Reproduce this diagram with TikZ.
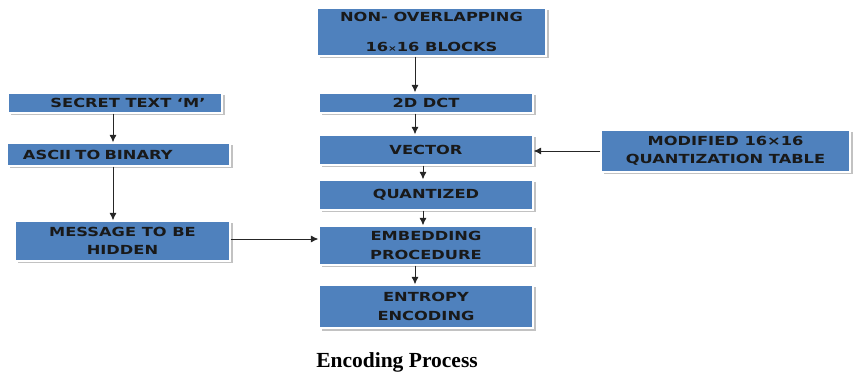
\documentclass[tikz,border=0pt]{standalone}
\usepackage{fontspec}
\usepackage{xcolor}
\usepackage{tikz}
\usetikzlibrary{arrows.meta,shadows}

\newfontfamily\boxfont[FakeStretch=1.3]{DejaVu Sans}
\newfontfamily\capfont{Liberation Serif}
\definecolor{boxblue}{RGB}{79,129,189}
\definecolor{boxtext}{RGB}{25,25,25}

\tikzset{
	box/.style={draw=white, line width=1.2pt, fill=boxblue, text=boxtext,
		font=\boxfont\bfseries\fontsize{12.5}{18.5}\selectfont, align=center, inner sep=0pt,
		drop shadow={shadow xshift=2.5pt, shadow yshift=-2.5pt, fill=black!40, opacity=0.6}},
	arr/.style={-{Latex[length=7.5pt,width=7pt]}, line width=0.9pt, draw=black!85}
}

\begin{document}
\begin{tikzpicture}[x=1pt,y=1pt]
		\useasboundingbox (0,0) rectangle (860,-374);

		% main column
		\node[box, minimum width=229pt, minimum height=48pt] (blocks) at (431.5,-32) {NON- OVERLAPPING\\[12pt]16{\fontsize{8}{8}\selectfont ×}16 BLOCKS};
		\node[box, minimum width=214pt, minimum height=20pt] (dct) at (426,-103) {2D DCT};
		\node[box, minimum width=214pt, minimum height=30pt] (vector) at (426,-150) {VECTOR};
		\node[box, minimum width=214pt, minimum height=30pt] (quant) at (426,-195) {QUANTIZED};
		\node[box, minimum width=214pt, minimum height=39pt] (embed) at (426,-245.5) {EMBEDDING\\PROCEDURE};
		\node[box, minimum width=214pt, minimum height=43pt] (entropy) at (426,-306.5) {ENTROPY\\ENCODING};

		% message side
		\node[box, minimum width=214pt, minimum height=20pt] (secret) at (115,-103) {\hspace*{26pt}SECRET TEXT ‘M’};
		\node[box, minimum width=223pt, minimum height=23pt, text width=191pt, align=left] (ascii) at (118.5,-154.5) {ASCII TO BINARY};
		\node[box, minimum width=215pt, minimum height=40pt] (message) at (122.5,-241) {MESSAGE TO BE\\HIDDEN};

		% table
		\node[box, minimum width=249pt, minimum height=42pt] (table) at (725.5,-151) {MODIFIED 16×16\\QUANTIZATION TABLE};

		\draw[arr] ([xshift=-16.5pt]blocks.south) -- ([xshift=-11pt]dct.north);
		\draw[arr] ([xshift=-11pt]dct.south) -- ([xshift=-11pt]vector.north);
		\draw[arr] ([xshift=-3pt]vector.south) -- ([xshift=-3pt]quant.north);
		\draw[arr] ([xshift=-3pt]quant.south) -- ([xshift=-3pt]embed.north);
		\draw[arr] ([xshift=-11pt]embed.south) -- ([xshift=-11pt]entropy.north);

		\draw[arr] ([xshift=-2pt]secret.south) -- ([xshift=-5.5pt]ascii.north);
		\draw[arr] ([xshift=-5.5pt]ascii.south) -- ([xshift=-9.5pt]message.north);
		\draw[arr] ([yshift=2pt]message.east) -- ([yshift=2pt]message.east -| embed.west);
		\draw[arr] (table.west) -- (table.west -| vector.east);

		\node[font=\capfont\bfseries\fontsize{21.5}{24}\selectfont, anchor=base] (caption) at (397,-367) {Encoding Process};
	\end{tikzpicture}
\end{document}
